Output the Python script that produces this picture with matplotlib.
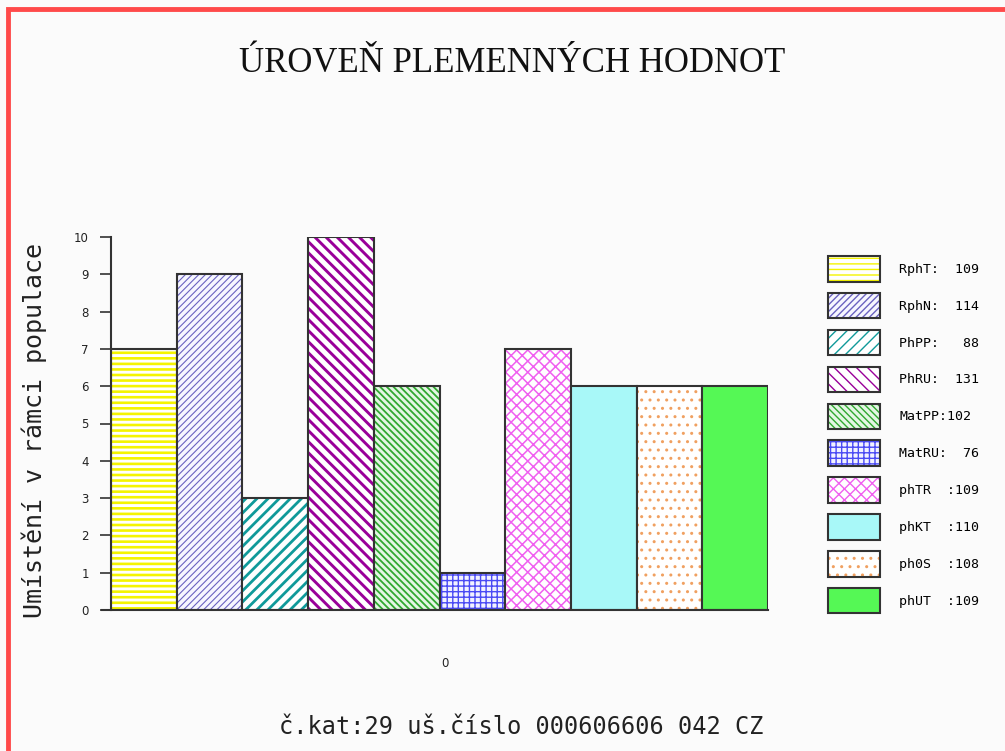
import matplotlib
matplotlib.use('Agg')
import matplotlib.pyplot as plt
from matplotlib.patches import Rectangle
from matplotlib.legend_handler import HandlerTuple

# Data
codes = ['RphT', 'RphN', 'PhPP', 'PhRU', 'MatPP', 'MatRU', 'phTR', 'phKT', 'ph0S', 'phUT']
ranks = [7, 9, 3, 10, 6, 1, 7, 6, 6, 6]
breeding_values = [109, 114, 88, 131, 102, 76, 109, 110, 108, 109]
legend_labels = ['RphT:  109', 'RphN:  114', 'PhPP:   88', 'PhRU:  131', 'MatPP:102',
                 'MatRU:  76', 'phTR  :109', 'phKT  :110', 'ph0S  :108', 'phUT  :109']
y_ticks = list(range(0, 11))

# Fill styles (face, hatch colour, hatch, hatch width in pt)
faces = ['white', '#f6f6ff', 'white', 'white', '#e4f6e4', '#f2f2ff', 'white', '#a8f8f8', 'white', '#55f855']
hatch_colors = ['#f4f400', '#6a62c0', '#109a9a', '#990099', '#30a830', '#4a4af4', '#f060f0', '#a8f8f8', '#f0a060', '#55f855']
hatches = ['---', '/////', '///', '\\\\\\', '\\\\\\\\\\', '+++', 'xxx', '', '..', '']
hatch_widths = [1.9, 0.8, 2.0, 2.1, 1.3, 1.0, 1.1, 1.0, 1.0, 1.0]

bg = '#fbfbfb'


def set_hw(p, w):
    if hasattr(p, 'set_hatch_linewidth'):
        p.set_hatch_linewidth(w)


fig = plt.figure(figsize=(10.05, 7.51), dpi=100, facecolor=bg)
ax = fig.add_axes([111 / 1005, 1 - 610 / 751, (768 - 111) / 1005, (610 - 237) / 751])
ax.set_facecolor(bg)

n = len(codes)
x = [i - (n - 1) / 2 for i in range(n)]
handles = []
for i in range(n):
    with plt.rc_context({'hatch.linewidth': hatch_widths[i]}):
        fill = ax.bar(x[i], ranks[i], width=1.0, color=faces[i], edgecolor=hatch_colors[i],
                      hatch=hatches[i], linewidth=0)
        set_hw(fill[0], hatch_widths[i])
        ax.bar(x[i], ranks[i], width=1.0, fill=False, edgecolor='#333333', linewidth=1.5)
        h1 = Rectangle((0, 0), 1, 1, facecolor=faces[i], edgecolor=hatch_colors[i], hatch=hatches[i], linewidth=0)
        set_hw(h1, hatch_widths[i])
    h2 = Rectangle((0, 0), 1, 1, fill=False, edgecolor='#333333', linewidth=1.5)
    handles.append((h1, h2))

ax.set_xlim(-n / 2, n / 2)
ax.set_ylim(0, 10)
ax.set_yticks(y_ticks)
ax.tick_params(axis='y', length=8, width=1.2, color='#333333', labelsize=8.5, pad=8, labelcolor='#222222')
ax.set_xticks([0.08])
ax.set_xticklabels(['0'])
ax.tick_params(axis='x', length=0, labelsize=8.5, pad=34, labelcolor='#222222')
for s in ['top', 'right']:
    ax.spines[s].set_visible(False)
for s in ['left', 'bottom']:
    ax.spines[s].set_color('#333333')
    ax.spines[s].set_linewidth(1.5)
ax.spines['bottom'].set_bounds(-n / 2 - 0.14, n / 2)

ax.set_ylabel('Umístění v rámci populace', fontfamily='DejaVu Sans Mono', fontsize=18,
              color='#222222')
ax.yaxis.set_label_coords(-0.097, 0.48)

leg = fig.legend(handles, legend_labels, handler_map={tuple: HandlerTuple(ndivide=1, pad=0)},
                 loc='upper left', bbox_to_anchor=(828 / 1005, 1 - 256 / 751), frameon=False,
                 prop={'family': 'DejaVu Sans Mono', 'size': 9.5}, borderpad=0, borderaxespad=0,
                 handlelength=3.95, handleheight=2.6, labelspacing=0.86, handletextpad=1.45)

fig.text(0.51, 1 - 63 / 751, 'ÚROVEŇ PLEMENNÝCH HODNOT', ha='center', va='center',
         fontfamily='Liberation Serif', fontsize=25, color='#111111')
fig.text(0.519, 1 - 727 / 751, 'č.kat:29 uš.číslo 000606606 042 CZ', ha='center', va='center',
         fontfamily='DejaVu Sans Mono', fontsize=17, color='#222222')

# red frame around the picture
fig.add_artist(Rectangle((8 / 1005, -0.05), 1.2, 1 - 9.5 / 751 + 0.05, transform=fig.transFigure,
                         fill=False, edgecolor='#ff4a4a', linewidth=3.5))

fig.savefig('out.png', dpi=100, facecolor=bg)
